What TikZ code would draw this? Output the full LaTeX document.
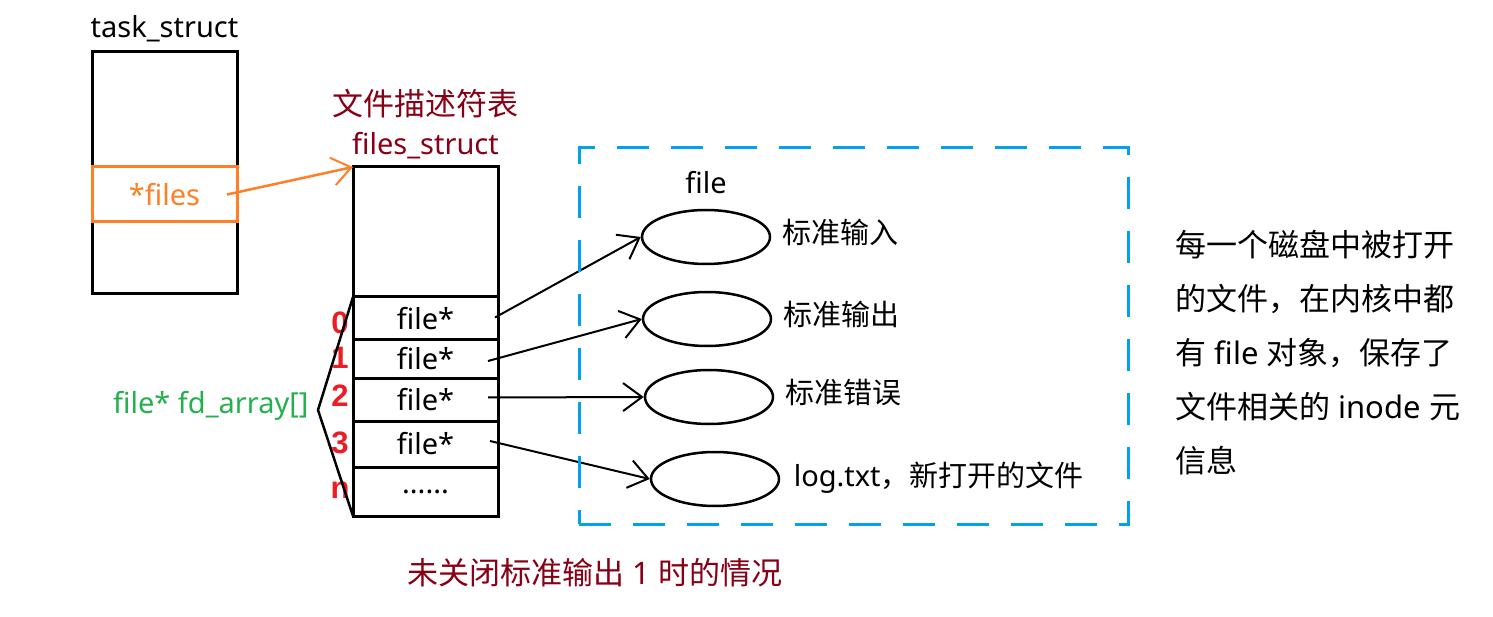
\documentclass[tikz,border=0pt]{standalone}
\usepackage{fontspec}
\setmainfont{Noto Sans}
\newfontfamily\zhfont{Noto Sans CJK SC}
\newfontfamily\idxfont{Liberation Sans}
\newcommand\zhtext[1]{{\zhfont #1}}
\usetikzlibrary{positioning}
\usetikzlibrary{arrows.meta}
\usetikzlibrary{shapes.geometric}
\definecolor{paintorange}{RGB}{255,127,39}
\definecolor{paintblue}{RGB}{0,162,232}
\definecolor{paintgreen}{RGB}{34,177,76}
\definecolor{paintred}{RGB}{237,28,36}
\definecolor{darkred}{RGB}{136,0,21}
\tikzset{
  cell/.style={draw, line width=3pt, minimum width=145pt, outer sep=0pt, inner sep=0pt},
  fobj/.style={draw, ellipse, line width=2.5pt, minimum width=128pt, minimum height=54pt, inner sep=0pt},
  ptr/.style={line width=2pt, -{Straight Barb[length=19pt,width=28pt,line width=2pt]}},
  idx/.style={text=paintred, font=\fontsize{31}{36}\idxfont\bfseries},
}

\begin{document}
\begin{tikzpicture}[x=1pt,y=-1pt,
    every node/.style={font=\fontsize{29}{35}\selectfont}]
  \useasboundingbox (0,0) rectangle (1493,617);

    % task_struct
    \node[cell, minimum height=242pt] (task) at (164.5,173) {};
    \node[above=6pt of task] (taskname) {task\_struct};
    \node[cell, draw=paintorange, text=paintorange, minimum height=55pt] (files) at (164.5,194.5) {*files};

    % files_struct
    \node[cell, minimum height=130pt] (fs) at (425.5,232) {};
    \node[cell, minimum height=43pt, below=0pt of fs] (r0) {file*};
    \node[cell, minimum height=38pt, below=0pt of r0] (r1) {file*};
    \node[cell, minimum height=43pt, below=0pt of r1] (r2) {file*};
    \node[cell, minimum height=46pt, below=0pt of r2] (r3) {file*};
    \node[cell, minimum height=49pt, below=0pt of r3] (rn) {......};
    \node[above=4pt of fs, text=darkred] (fsname) {files\_struct};
    \node[above=8pt of fsname, text=darkred, font=\fontsize{31}{36}\selectfont] (fstitle) {\zhtext{文件描述符表}};

    \node[idx] (i0) at (340,323) {0};
    \node[idx] (i1) at (340,358) {1};
    \node[idx] (i2) at (340,396) {2};
    \node[idx] (i3) at (340,443) {3};
    \node[idx] (in) at (340,490) {n};

    \coordinate (fdtip) at (318,410);
    \draw[line width=2.5pt] (r0.north west) -- (fdtip) -- (rn.south west);
    \node[left=6pt of fdtip, yshift=4pt, text=paintgreen] (fdlabel) {file* fd\_array[]};

    % file objects
    \node[fobj] (e0) at (706,237) {};
    \node[fobj] (e1) at (707,319) {};
    \node[fobj] (e2) at (709,397) {};
    \node[fobj] (e3) at (715,479) {};
    \node[above=11pt of e0] (filename) {file};
    \node[right=8pt of e0, yshift=5pt] (l0) {\zhtext{标准输入}};
    \node[right=8pt of e1, yshift=5pt] (l1) {\zhtext{标准输出}};
    \node[right=8pt of e2, yshift=4pt] (l2) {\zhtext{标准错误}};
    \node[right=10pt of e3, yshift=1pt] (l3) {log.txt\zhtext{，新打开的文件}};

    \draw[ptr, paintorange, line width=2.5pt] ([xshift=-10pt]files.east) -- (fs.north west);
    \draw[ptr] ([xshift=-3pt,yshift=1pt]r0.east) -- (e0.west);
    \draw[ptr] ([xshift=-10pt,yshift=-2pt]r1.east) -- (e1.west);
    \draw[ptr] ([xshift=-10pt,yshift=2pt]r2.east) -- (e2.west);
    \draw[ptr] ([xshift=-8pt,yshift=3pt]r3.east) -- (e3.west);

    \node[draw=paintblue, line width=3pt, dash pattern=on 32pt off 22pt, minimum width=549pt, minimum height=376pt, inner sep=0pt] (filebox) at (853.5,336) {};

    \node[text=darkred, font=\fontsize{31}{36}\selectfont] (caption) at (595,573) {\zhtext{未关闭标准输出} 1 \zhtext{时的情况}};

    \node[anchor=base west, align=left, font=\fontsize{31}{54}\selectfont] (note) at (1172,472) {\zhtext{每一个磁盘中被打开}\\ \zhtext{的文件，在内核中都}\\ \zhtext{有} file \zhtext{对象，保存了}\\ \zhtext{文件相关的} inode \zhtext{元}\\ \zhtext{信息}};
\end{tikzpicture}
\end{document}
